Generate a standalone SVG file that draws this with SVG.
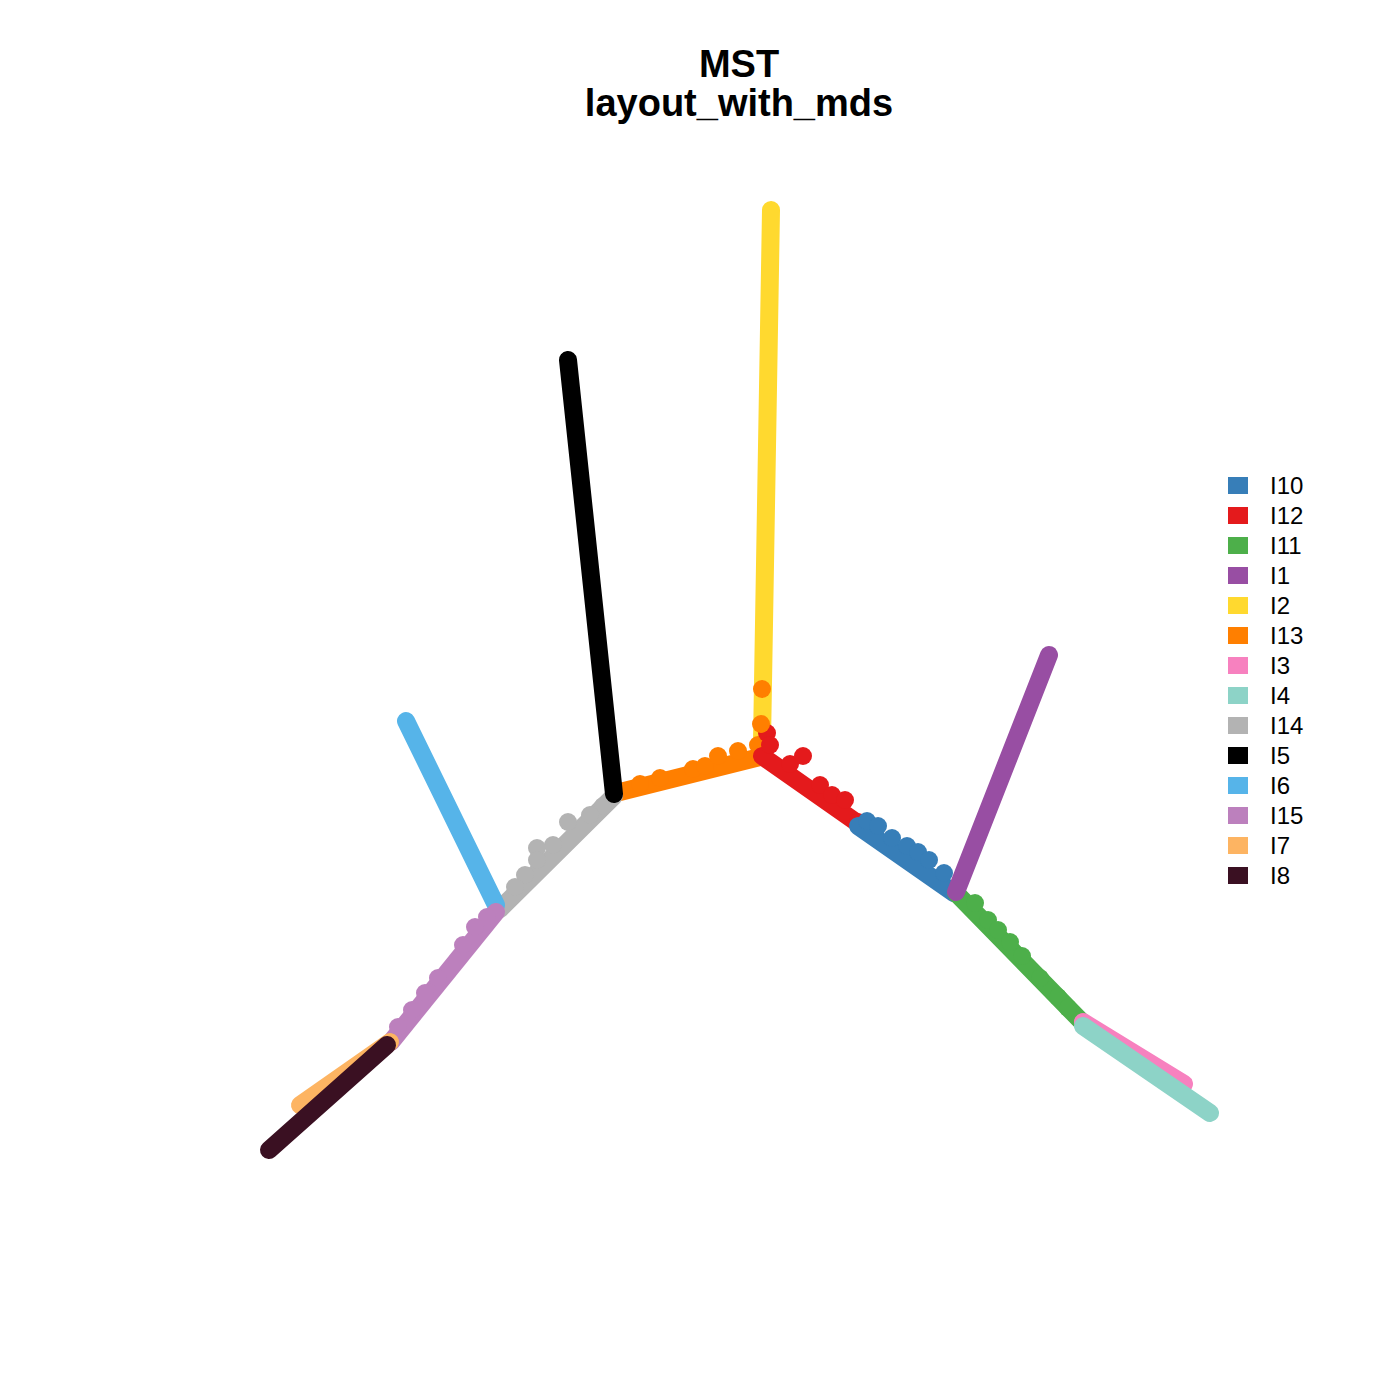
<svg xmlns="http://www.w3.org/2000/svg" width="1400" height="1400" viewBox="0 0 1400 1400">
<style>
.t{font-family:"Liberation Sans",Arial,sans-serif;font-weight:bold;font-size:38px;text-anchor:middle;fill:#000}
.l{font-family:"Liberation Sans",Arial,sans-serif;font-size:24px;fill:#000}
line{stroke-width:18;stroke-linecap:round}
</style>
<rect width="1400" height="1400" fill="#fff"/>
<text class="t" x="739" y="77">MST</text>
<text class="t" x="739" y="116">layout_with_mds</text>
<g id="branches">
<g id="I2" fill="#FFD92F"><line x1="771" y1="210" x2="762" y2="742" stroke="#FFD92F"/></g>
<g id="I13" fill="#FF7F00">
<line x1="760" y1="757" x2="616" y2="793" stroke="#FF7F00"/>
<circle cx="640" cy="784" r="9"/><circle cx="660" cy="778" r="9"/><circle cx="693" cy="769" r="9"/><circle cx="705" cy="766" r="9"/><circle cx="718" cy="756" r="9"/><circle cx="738" cy="751" r="9"/><circle cx="758" cy="745" r="9"/>
</g>
<g id="I12" fill="#E41A1C">
<line x1="762" y1="756" x2="856" y2="822" stroke="#E41A1C"/>
<circle cx="767" cy="733" r="9"/><circle cx="770" cy="745" r="9"/><circle cx="790" cy="764" r="9"/><circle cx="803" cy="756" r="9"/><circle cx="820" cy="785" r="9"/><circle cx="832" cy="795" r="9"/><circle cx="845" cy="800" r="9"/><circle cx="858" cy="822" r="9"/>
</g>
<g id="I13b" fill="#FF7F00"><circle cx="762" cy="689" r="9"/><circle cx="761" cy="724" r="9"/></g>
<g id="I10" fill="#377EB8">
<line x1="858" y1="826" x2="954" y2="893" stroke="#377EB8"/>
<circle cx="867" cy="821" r="9"/><circle cx="878" cy="826" r="9"/><circle cx="892" cy="838" r="9"/><circle cx="907" cy="846" r="9"/><circle cx="918" cy="852" r="9"/><circle cx="929" cy="860" r="9"/><circle cx="944" cy="873" r="9"/>
</g>
<g id="I11" fill="#4DAF4A">
<line x1="956" y1="893" x2="1081" y2="1021" stroke="#4DAF4A"/>
<circle cx="975" cy="903" r="9"/><circle cx="988" cy="920" r="9"/><circle cx="998" cy="930" r="9"/><circle cx="1010" cy="942" r="9"/><circle cx="1022" cy="956" r="9"/><circle cx="1040" cy="978" r="9"/><circle cx="1058" cy="997" r="9"/><circle cx="1068" cy="1008" r="9"/>
</g>
<g id="I1"><line x1="1049" y1="655" x2="956" y2="892" stroke="#984EA3"/></g>
<g id="I3"><line x1="1083" y1="1022" x2="1184" y2="1084" stroke="#F781BF"/></g>
<g id="I4"><line x1="1083" y1="1026" x2="1210" y2="1113" stroke="#8DD3C7"/></g>
<g id="I14" fill="#B3B3B3">
<line x1="614" y1="796" x2="500" y2="909" stroke="#B3B3B3"/>
<circle cx="603" cy="806" r="9"/><circle cx="590" cy="815" r="9"/><circle cx="568" cy="822" r="9"/><circle cx="553" cy="845" r="9"/><circle cx="537" cy="848" r="9"/><circle cx="537" cy="860" r="9"/><circle cx="525" cy="875" r="9"/><circle cx="515" cy="887" r="9"/>
</g>
<g id="I5"><line x1="568" y1="360" x2="614" y2="794" stroke="#000000"/></g>
<g id="I6"><line x1="406" y1="721" x2="496" y2="905" stroke="#56B4E9"/></g>
<g id="I15" fill="#BC80BD">
<line x1="496" y1="912" x2="391" y2="1042" stroke="#BC80BD"/>
<circle cx="487" cy="917" r="9"/><circle cx="475" cy="927" r="9"/><circle cx="463" cy="945" r="9"/><circle cx="438" cy="978" r="9"/><circle cx="425" cy="993" r="9"/><circle cx="412" cy="1010" r="9"/><circle cx="398" cy="1027" r="9"/>
</g>
<g id="I7"><line x1="390" y1="1042" x2="300" y2="1105" stroke="#FDB462"/></g>
<g id="I8"><line x1="387" y1="1045" x2="269" y2="1150" stroke="#3A1022"/></g>
</g>
<g id="legend">
<rect x="1228" y="477" width="20" height="17" fill="#377EB8"/><text class="l" x="1270" y="494">I10</text>
<rect x="1228" y="507" width="20" height="17" fill="#E41A1C"/><text class="l" x="1270" y="524">I12</text>
<rect x="1228" y="537" width="20" height="17" fill="#4DAF4A"/><text class="l" x="1270" y="554">I11</text>
<rect x="1228" y="567" width="20" height="17" fill="#984EA3"/><text class="l" x="1270" y="584">I1</text>
<rect x="1228" y="597" width="20" height="17" fill="#FFD92F"/><text class="l" x="1270" y="614">I2</text>
<rect x="1228" y="627" width="20" height="17" fill="#FF7F00"/><text class="l" x="1270" y="644">I13</text>
<rect x="1228" y="657" width="20" height="17" fill="#F781BF"/><text class="l" x="1270" y="674">I3</text>
<rect x="1228" y="687" width="20" height="17" fill="#8DD3C7"/><text class="l" x="1270" y="704">I4</text>
<rect x="1228" y="717" width="20" height="17" fill="#B3B3B3"/><text class="l" x="1270" y="734">I14</text>
<rect x="1228" y="747" width="20" height="17" fill="#000000"/><text class="l" x="1270" y="764">I5</text>
<rect x="1228" y="777" width="20" height="17" fill="#56B4E9"/><text class="l" x="1270" y="794">I6</text>
<rect x="1228" y="807" width="20" height="17" fill="#BC80BD"/><text class="l" x="1270" y="824">I15</text>
<rect x="1228" y="837" width="20" height="17" fill="#FDB462"/><text class="l" x="1270" y="854">I7</text>
<rect x="1228" y="867" width="20" height="17" fill="#3A1022"/><text class="l" x="1270" y="884">I8</text>
</g>
</svg>
